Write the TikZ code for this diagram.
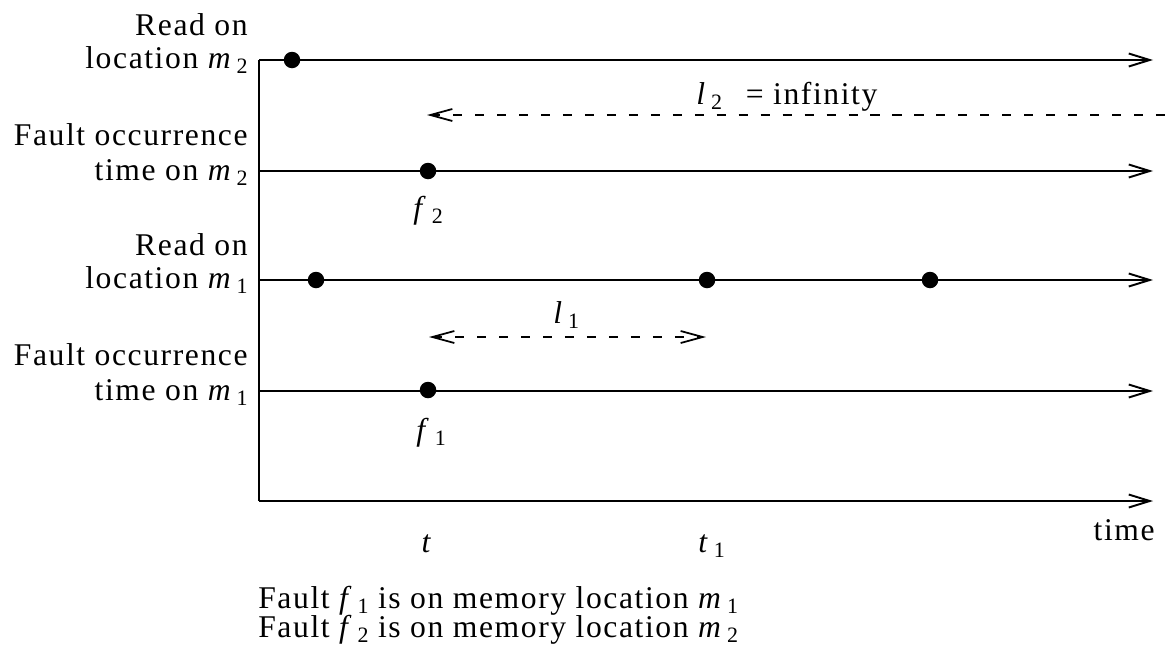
\documentclass[tikz,border=0pt]{standalone}
\usepackage{fontspec}
\setmainfont{Liberation Serif}[LetterSpace=5]
\usetikzlibrary{arrows.meta}
\newcommand\lsub[1]{\hspace{0.14em}\raisebox{-0.4ex}{\fontsize{12.5}{12.5}\selectfont #1}}
\begin{document}
\begin{tikzpicture}[x=0.02cm,y=-0.02cm,
  tip/.tip={Straight Barb[length=0.42cm,width=0.26cm,line width=1.1pt]},
  dtip/.tip={Straight Barb[length=0.44cm,width=0.24cm,line width=1pt]},
  axisline/.style={line width=1.1pt,-tip},
  dline/.style={line width=1pt,dash pattern=on 5.2pt off 7.3pt},
  dotn/.style={circle,fill,inner sep=0pt,minimum size=0.33cm},
  lbl/.style={inner sep=0pt,font=\fontsize{18}{21}\selectfont}]
\useasboundingbox (0,0) rectangle (1168,656);
% axis coordinates
\coordinate (top) at (259,60);
\coordinate (bot) at (259,501);
\coordinate (r2s) at (259,60);   \coordinate (r2e) at (1153,60);
\coordinate (f2s) at (259,171);  \coordinate (f2e) at (1153,171);
\coordinate (r1s) at (259,280);  \coordinate (r1e) at (1153,280);
\coordinate (f1s) at (259,391);  \coordinate (f1e) at (1153,391);
\coordinate (tas) at (259,501);  \coordinate (tae) at (1153,501);
\draw[line width=1.1pt] (top) -- (bot);
\draw[axisline] (r2s) -- (r2e);
\draw[axisline] (f2s) -- (f2e);
\draw[axisline] (r1s) -- (r1e);
\draw[axisline] (f1s) -- (f1e);
\draw[axisline] (tas) -- (tae);
% dots
\node[dotn] (d1) at (292,60) {};
\node[dotn] (d2) at (428,171) {};
\node[dotn] (d3) at (316,280) {};
\node[dotn] (d4) at (707,280) {};
\node[dotn] (d5) at (930,280) {};
\node[dotn] (d6) at (428,390) {};
% dashed intervals
\coordinate (l2s) at (427,115); \coordinate (l2e) at (1168,115);
\draw[dline,dtip-] (l2s) -- (l2e);
\coordinate (l1s) at (429,337); \coordinate (l1e) at (706,337);
\draw[dline,dtip-dtip] (l1s) -- (l1e);
% left labels
\node[lbl,anchor=base east] (a1) at (248,35) {Read on};
\node[lbl,anchor=base east] (a2) at (248,68) {location \textit{m}\lsub{2}};
\node[lbl,anchor=base east] (b1) at (248,145) {Fault occurrence};
\node[lbl,anchor=base east] (b2) at (248,180) {time on \textit{m}\lsub{2}};
\node[lbl,anchor=base east] (c1) at (248,255) {Read on};
\node[lbl,anchor=base east] (c2) at (248,288) {location \textit{m}\lsub{1}};
\node[lbl,anchor=base east] (e1) at (248,365) {Fault occurrence};
\node[lbl,anchor=base east] (e2) at (248,400) {time on \textit{m}\lsub{1}};
% other labels
\node[lbl,anchor=base west] (l2) at (696,104) {\textit{l}\lsub{2}\hspace{0.75em}= infinity};
\node[lbl,anchor=base west] (l1) at (553,323) {\textit{l}\lsub{1}};
\node[lbl,anchor=base west] (fl2) at (413,218) {\textit{f}\lsub{2}};
\node[lbl,anchor=base west] (fl1) at (416,440) {\textit{f}\lsub{1}};
\node[lbl,anchor=base] (tt) at (427,552) {\textit{t}};
\node[lbl,anchor=base west] (tt1) at (698,552) {\textit{t}\lsub{1}};
\node[lbl,anchor=base east] (time) at (1155,540) {time};
\node[lbl,anchor=base west] (cap1) at (258,608) {Fault \textit{f}\lsub{1} is on memory location \textit{m}\lsub{1}};
\node[lbl,anchor=base west] (cap2) at (258,637) {Fault \textit{f}\lsub{2} is on memory location \textit{m}\lsub{2}};
\end{tikzpicture}
\end{document}
